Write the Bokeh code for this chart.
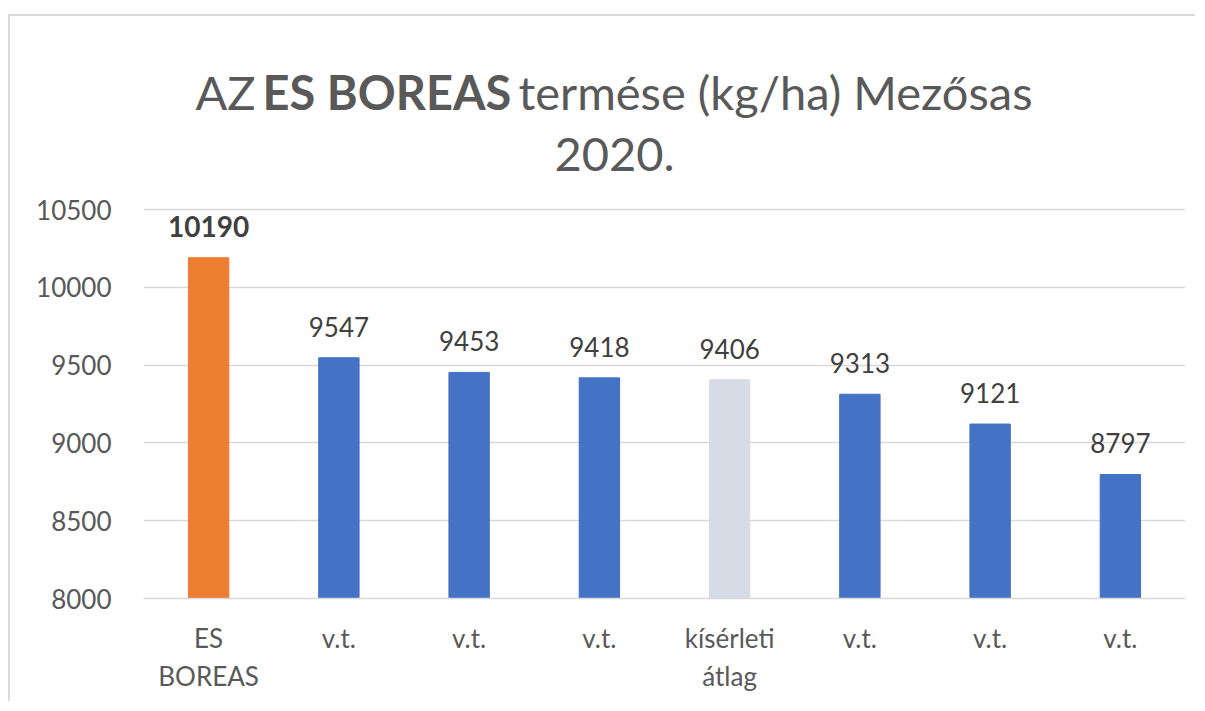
from bokeh.plotting import figure
from bokeh.models import FixedTicker, ColumnDataSource, Range1d
from bokeh.core.properties import value
from bokeh.embed import file_html
from bokeh.resources import INLINE

categories = ["ES\nBOREAS", "v.t.", "v.t.", "v.t.", "kísérleti\nátlag", "v.t.", "v.t.", "v.t."]
values = [10190, 9547, 9453, 9418, 9406, 9313, 9121, 8797]
colors = ["#ED7D31", "#4472C4", "#4472C4", "#4472C4", "#D6DCE5", "#4472C4", "#4472C4", "#4472C4"]
label_styles = ["bold", "normal", "normal", "normal", "normal", "normal", "normal", "normal"]
label_sizes = ["28px", "26px", "26px", "26px", "26px", "26px", "26px", "26px"]
y_ticks = [8000, 8500, 9000, 9500, 10000, 10500]

FONT = "Lato"
Y_MIN = 8000
# vertical room above the value axis holds the title (axis ticks stop at 10500)
Y_TOP = Y_MIN + 582 * 2500 / 389

xs = list(range(len(categories)))
src = ColumnDataSource(dict(x=xs, top=values, color=colors,
                            label=[str(v) for v in values], style=label_styles, size=label_sizes))

p = figure(width=1187, height=687, output_backend="svg", toolbar_location=None,
           x_range=Range1d(-0.5, len(categories) - 0.5), y_range=Range1d(Y_MIN, Y_TOP),
           min_border_left=133, min_border_right=12, min_border_top=0, min_border_bottom=105)
p.styles = {"border-top": "2px solid #DCDCDC", "border-left": "2px solid #DCDCDC",
            "margin-top": "14px", "margin-left": "8px"}
p.outline_line_color = None
p.background_fill_color = "white"
p.border_fill_color = "white"

p.vbar(x="x", top="top", bottom=Y_MIN, width=0.31, color="color", source=src)
p.text(x="x", y="top", text="label", source=src, text_align="center", text_baseline="bottom",
       y_offset=-21, text_font=value(FONT), text_font_size="size", text_color="#404040",
       text_font_style="style")

p.xgrid.grid_line_color = None
p.ygrid.grid_line_color = "#D9D9D9"
p.ygrid.grid_line_width = 1.5
p.yaxis.ticker = FixedTicker(ticks=y_ticks)
p.yaxis.axis_line_color = None
p.yaxis.major_tick_line_color = None
p.yaxis.minor_tick_line_color = None
p.yaxis.major_label_standoff = 26
p.yaxis.major_label_text_font = FONT
p.yaxis.major_label_text_font_size = "26px"
p.yaxis.major_label_text_color = "#595959"

p.xaxis.ticker = FixedTicker(ticks=xs)
p.xaxis.major_label_overrides = {i: c for i, c in enumerate(categories)}
p.xaxis.axis_line_color = "#D9D9D9"
p.xaxis.axis_line_width = 1.5
p.xaxis.major_tick_line_color = None
p.xaxis.minor_tick_line_color = None
p.xaxis.major_label_standoff = 17
p.xaxis.major_label_text_font = FONT
p.xaxis.major_label_text_font_size = "26px"
p.xaxis.major_label_text_color = "#595959"

# title pieces (mixed bold)
title_y1 = Y_MIN + 507 * 2500 / 389
title_y2 = Y_MIN + 444 * 2500 / 389
for txt, st, tx in [("AZ", "normal", -0.101), ("ES BOREAS", "bold", 0.414),
                    ("termése (kg/ha) Mezősas", "normal", 2.379)]:
    p.text(x=[tx], y=[title_y1], text=[txt], text_font=value(FONT), text_font_size="47px",
           text_font_style=st, text_color="#595959", text_baseline="middle", text_align="left")
p.text(x=[3.116], y=[title_y2], text=["2020."], text_font=value(FONT), text_font_size="47px",
       text_color="#595959", text_baseline="middle", text_align="center")

open("out.html", "w").write(file_html(p, INLINE))
